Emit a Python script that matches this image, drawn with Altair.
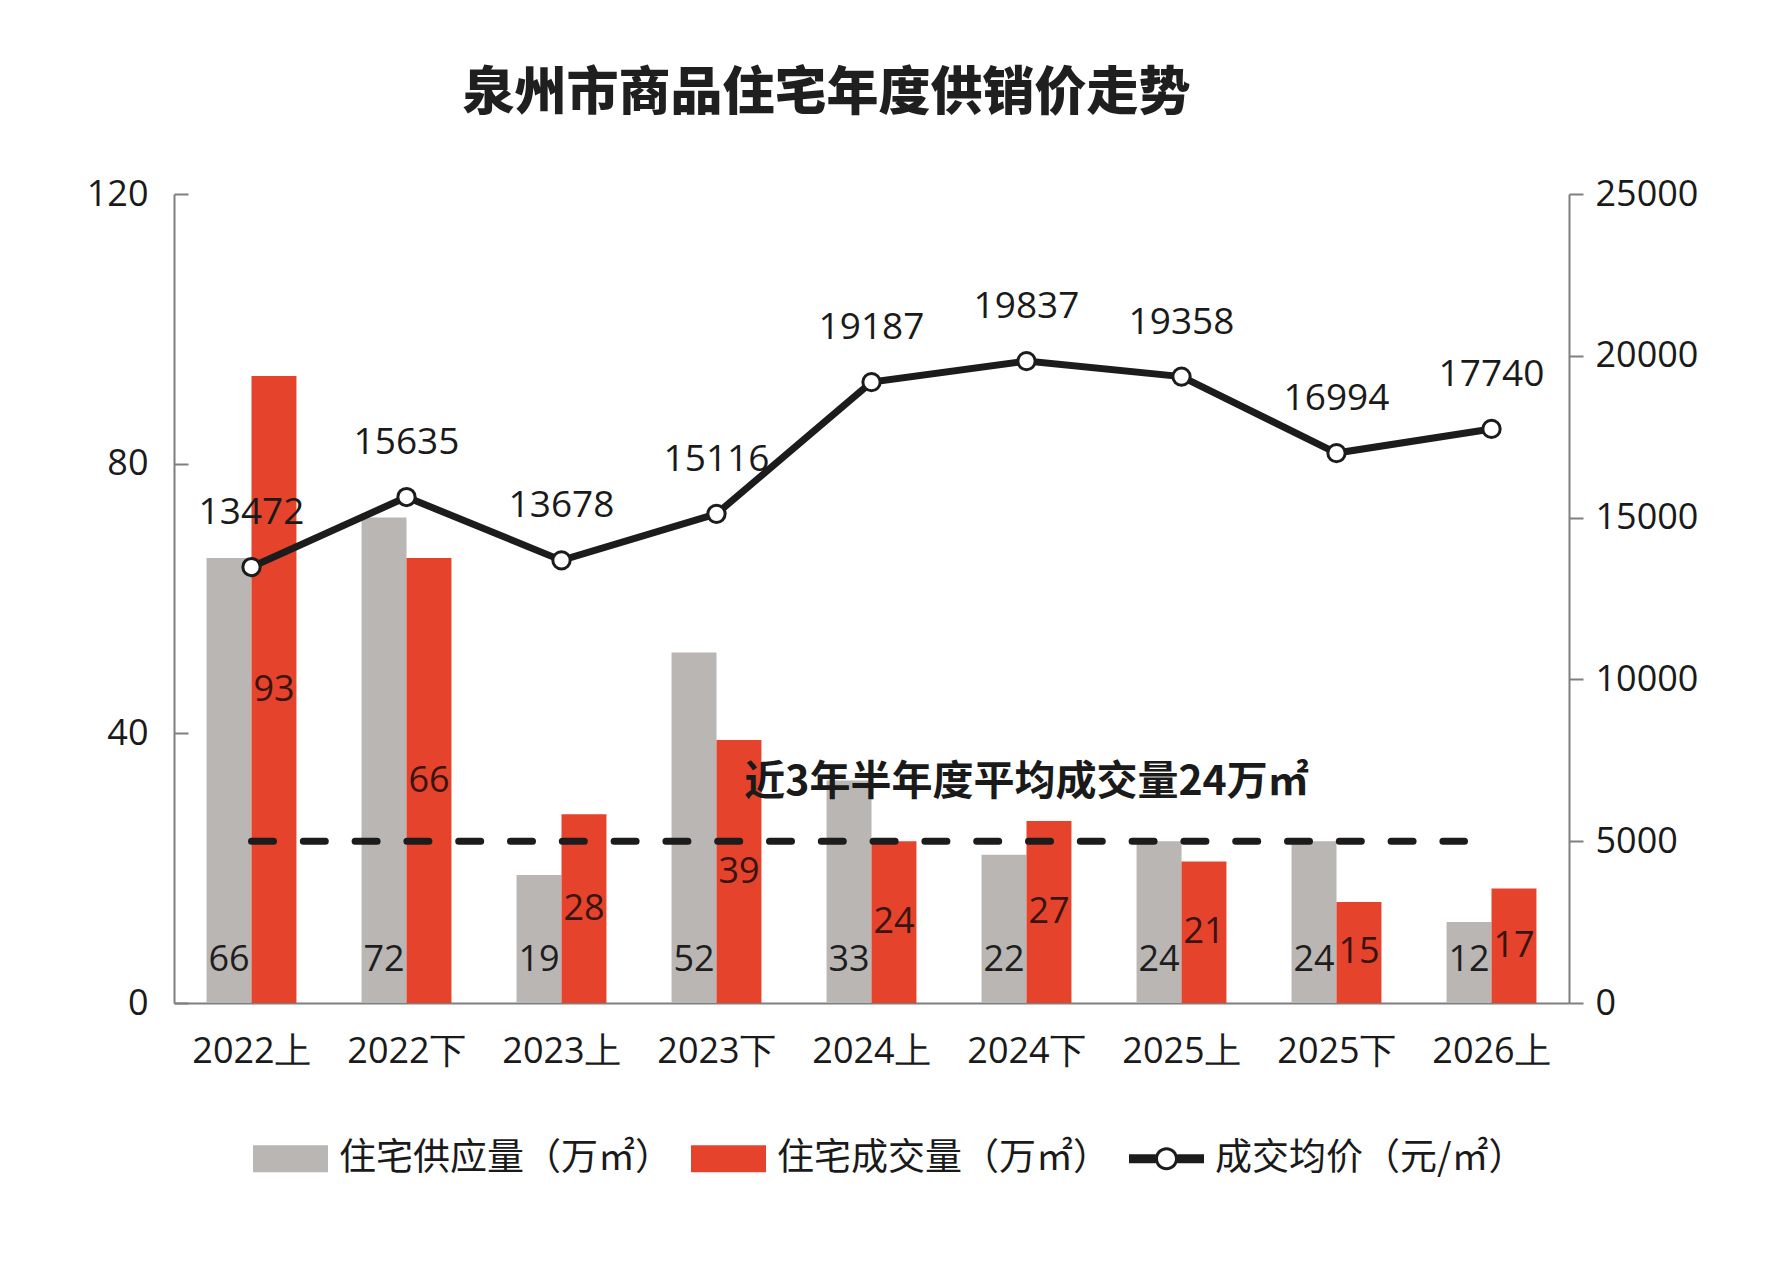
import altair as alt
import pandas as pd

# ---------------- data ----------------
periods = ["2022上", "2022下", "2023上", "2023下", "2024上", "2024下", "2025上", "2025下", "2026上"]
supply = [66, 72, 19, 52, 33, 22, 24, 24, 12]          # 住宅供应量（万㎡）
deal = [93, 66, 28, 39, 24, 27, 21, 15, 17]            # 住宅成交量（万㎡）
price = [13472, 15635, 13678, 15116, 19187, 19837, 19358, 16994, 17740]  # 成交均价（元/㎡）
avg_deal = 24
annot = "近3年半年度平均成交量24万㎡"

S1 = "住宅供应量（万㎡）"
S2 = "住宅成交量（万㎡）"
S3 = "成交均价（元/㎡）"
series_names = [S1, S2, S3]

title_text = "泉州市商品住宅年度供销价走势"

# ---------------- tables ----------------
long_df = pd.DataFrame(
    [{"period": p, "series": S1, "value": v} for p, v in zip(periods, supply)]
    + [{"period": p, "series": S2, "value": v} for p, v in zip(periods, deal)]
)
price_df = pd.DataFrame({"period": periods, "price": price})
avg_df = pd.DataFrame({"avg": [avg_deal], "label": [annot], "where": [periods[5]]})

GRAY = "#b9b6b3"
RED = "#e5432c"
BLACK = "#1c1c1c"
AXIS_GRAY = "#7f7f7f"
NUM_FONT = "Open Sans"
CJK_FONT = "Noto Sans CJK SC"

W, H = 1395, 809

x_scale = alt.Scale(domain=periods, paddingInner=0.42, paddingOuter=0.21)
x_axis = alt.Axis(title=None, labelFontSize=36, labelFont=NUM_FONT, labelColor="#1a1a1a",
                  labelAngle=0, ticks=False, domainColor=AXIS_GRAY, domainWidth=2,
                  labelPadding=31)
X = alt.X("period:N", scale=x_scale, axis=x_axis, sort=periods)
XO = alt.XOffset("series:N", scale=alt.Scale(domain=[S1, S2], paddingInner=0, paddingOuter=0))

yl_scale = alt.Scale(domain=[0, 120], nice=False)
yl_axis = alt.Axis(title=None, values=[0, 40, 80, 120], labelFontSize=36, labelFont=NUM_FONT,
                   labelColor="#1a1a1a", ticks=False, labelPadding=26,
                   domainColor=AXIS_GRAY, domainWidth=2,
                   grid=True, gridColor=AXIS_GRAY, gridWidth=2, gridDash=[14, 4000])

yr_scale = alt.Scale(domain=[0, 25000], nice=False)
yr_axis = alt.Axis(title=None, orient="right", values=[0, 5000, 10000, 15000, 20000, 25000],
                   format="d", labelFontSize=36, labelFont=NUM_FONT, labelColor="#1a1a1a",
                   tickSize=14, tickColor=AXIS_GRAY, tickWidth=2, labelPadding=12,
                   domainColor=AXIS_GRAY, domainWidth=2, grid=False)

line_sym = ("M-1,-0.12H-0.29V0.12H-1Z M0.29,-0.12H1V0.12H0.29Z "
            "M0.307,0A0.307,0.307 0 1,1 -0.307,0A0.307,0.307 0 1,1 0.307,0Z "
            "M0.227,0A0.227,0.227 0 1,0 -0.227,0A0.227,0.227 0 1,0 0.227,0Z")
rect_sym = "M-1,-0.36H1V0.36H-1Z"

legend = alt.Legend(
    title=None, orient="none", direction="horizontal", legendX=79, legendY=927,
    symbolType={"expr": f"datum.value == '{S3}' ? '{line_sym}' : '{rect_sym}'"},
    symbolSize=5625, symbolStrokeWidth=0, symbolOpacity=1,
    labelFont=CJK_FONT, labelFontSize=37, labelColor="#1a1a1a", labelLimit=800,
    labelOffset=11, columnPadding=19, padding=0,
)

color = alt.Color("series:N", scale=alt.Scale(domain=series_names, range=[GRAY, RED, BLACK]),
                  legend=legend)

base = alt.Chart(long_df)

bars = base.mark_bar().encode(
    x=X, xOffset=XO,
    y=alt.Y("value:Q", scale=yl_scale, axis=yl_axis),
    color=color,
)

gray_text = base.transform_filter(alt.datum.series == S1).transform_calculate(
    base="0"
).mark_text(
    font=NUM_FONT, fontSize=36, color="#1e1e1e", baseline="middle", dy=-43
).encode(
    x=X, xOffset=XO,
    y=alt.Y("base:Q", scale=yl_scale, axis=yl_axis),
    text=alt.Text("value:Q"),
)

red_text = base.transform_filter(alt.datum.series == S2).transform_calculate(
    half="datum.value / 2"
).mark_text(
    font=NUM_FONT, fontSize=36, color="#3a1410", baseline="middle"
).encode(
    x=X, xOffset=XO,
    y=alt.Y("half:Q", scale=yl_scale, axis=yl_axis),
    text=alt.Text("value:Q"),
)

avg_rule = alt.Chart(avg_df).mark_rule(
    color=BLACK, strokeWidth=7, strokeDash=[22, 29.8], strokeCap="round", x2Offset=-27
).encode(
    x=alt.datum(periods[0], scale=x_scale),
    x2=alt.datum(periods[-1]),
    y=alt.Y("avg:Q", scale=yl_scale, axis=yl_axis),
)

avg_text = alt.Chart(avg_df).mark_text(
    font=CJK_FONT, fontSize=41, fontWeight="bold", color="#1a1a1a", baseline="middle", dy=-58
).encode(
    x=alt.X("where:N", scale=x_scale, axis=x_axis, sort=periods),
    y=alt.Y("avg:Q", scale=yl_scale, axis=yl_axis),
    text="label:N",
)

left_group = alt.layer(bars, gray_text, red_text, avg_rule, avg_text)

pbase = alt.Chart(price_df)
line = pbase.mark_line(color=BLACK, strokeWidth=7).encode(
    x=X, y=alt.Y("price:Q", scale=yr_scale, axis=yr_axis)
)
pts = pbase.mark_point(filled=True, fill="white", stroke=BLACK, strokeWidth=3,
                       size=300, opacity=1).encode(
    x=X, y=alt.Y("price:Q", scale=yr_scale, axis=yr_axis)
)
ptext = pbase.mark_text(font=NUM_FONT, fontSize=37, color="#1a1a1a",
                        baseline="middle", dy=-54).encode(
    x=X, y=alt.Y("price:Q", scale=yr_scale, axis=yr_axis), text="price:Q"
)
right_group = alt.layer(line, pts, ptext)

chart = alt.layer(left_group, right_group).resolve_scale(y="independent").properties(
    width=W, height=H,
    title=alt.TitleParams(title_text, font=CJK_FONT, fontSize=52, fontWeight=900,
                          color="#1f1f1f", anchor="middle", dx=-45, offset=55),
    padding={"left": 166, "top": 186, "right": 195, "bottom": 255},
    autosize=alt.AutoSizeParams(type="none"),
    background="white",
).configure_view(strokeWidth=0)

chart.save("out.html", embed_options={"renderer": "svg", "actions": False})
